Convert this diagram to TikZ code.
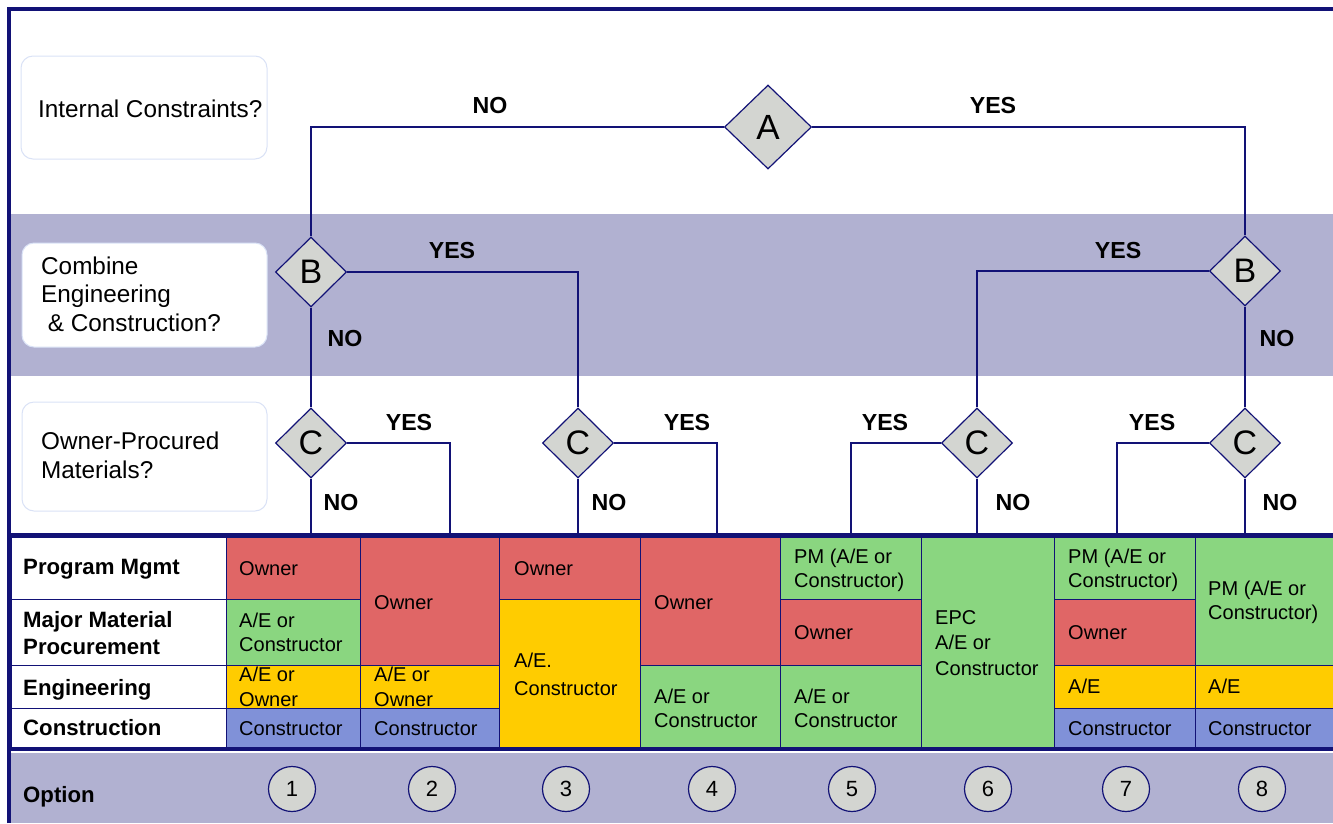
\documentclass[tikz,border=0pt]{standalone}
\usepackage{fontspec}
\setmainfont{Liberation Sans}
\usetikzlibrary{shapes.geometric}
\pgfdeclarelayer{bg}
\pgfdeclarelayer{lines}
\pgfsetlayers{bg,lines,main}
\definecolor{navy}{RGB}{18,18,118}
\definecolor{band}{RGB}{177,177,209}
\definecolor{cred}{RGB}{224,102,102}
\definecolor{cgreen}{RGB}{138,214,128}
\definecolor{cyel}{RGB}{255,204,0}
\definecolor{cblue}{RGB}{128,145,216}
\definecolor{dgrey}{RGB}{211,213,209}
\definecolor{qborder}{RGB}{218,226,246}
\tikzset{
 dec/.style={diamond, draw=navy, fill=dgrey, line width=1.2pt, inner sep=0pt, aspect=1, minimum width=71pt, minimum height=70pt, font=\fontsize{34}{34}\selectfont},
 bigdec/.style={dec, minimum width=87pt, minimum height=84pt, font=\fontsize{35}{35}\selectfont},
 link/.style={draw=navy, line width=1.3pt},
 yn/.style={font=\fontsize{23.2}{23.2}\selectfont\bfseries, inner sep=0pt},
 qbox/.style={draw=qborder, fill=white, rounded corners=12pt, line width=1pt},
 qtext/.style={anchor=base west, align=left, font=\fontsize{24.3}{28.5}\selectfont, inner sep=0pt},
 cell/.style={draw=navy, line width=1pt},
 ctext/.style={anchor=base west, align=left, font=\fontsize{20}{24.5}\selectfont, inner sep=0pt},
 rtext/.style={anchor=base west, align=left, font=\fontsize{22.2}{27}\selectfont\bfseries, inner sep=0pt},
 opt/.style={ellipse, draw=navy, fill=dgrey, line width=1.2pt, minimum width=47pt, minimum height=45pt, inner sep=0pt, font=\fontsize{22}{22}\selectfont},
}
\newcommand\tcell[5]{\path[cell, fill=#5] (#1,#2) rectangle (#3,#4);}
\begin{document}
\begin{tikzpicture}[x=1pt,y=-1pt]
\useasboundingbox (0,0) rectangle (1333,823);
\begin{pgfonlayer}{bg}
% bands
\fill[band] (11,214) rectangle (1333,376);
\fill[band] (11,753) rectangle (1333,823);
% question boxes
\draw[qbox] (21,56) rectangle (267,159);
\draw[qbox] (22,243) rectangle (267,347);
\draw[qbox] (22,402) rectangle (267,511);
% table cells
\tcell{11}{537}{226}{599}{white}
\tcell{11}{599}{226}{665}{white}
\tcell{11}{665}{226}{708}{white}
\tcell{11}{708}{226}{747}{white}
\tcell{226}{537}{360}{599}{cred}
\tcell{226}{599}{360}{665}{cgreen}
\tcell{226}{665}{360}{708}{cyel}
\tcell{226}{708}{360}{747}{cblue}
\tcell{360}{537}{499}{665}{cred}
\tcell{360}{665}{499}{708}{cyel}
\tcell{360}{708}{499}{747}{cblue}
\tcell{499}{537}{640}{599}{cred}
\tcell{499}{599}{640}{747}{cyel}
\tcell{640}{537}{780}{665}{cred}
\tcell{640}{665}{780}{747}{cgreen}
\tcell{780}{537}{921}{599}{cgreen}
\tcell{780}{599}{921}{665}{cred}
\tcell{780}{665}{921}{747}{cgreen}
\tcell{921}{537}{1054}{747}{cgreen}
\tcell{1054}{537}{1195}{599}{cgreen}
\tcell{1054}{599}{1195}{665}{cred}
\tcell{1054}{665}{1195}{708}{cyel}
\tcell{1054}{708}{1195}{747}{cblue}
\tcell{1195}{537}{1336}{665}{cgreen}
\tcell{1195}{665}{1336}{708}{cyel}
\tcell{1195}{708}{1336}{747}{cblue}
\end{pgfonlayer}
% question texts (anchor = baseline of last line)
\node[qtext] (q1) at (38,117) {Internal Constraints?};
\node[qtext] (q2) at (41,331) {Combine\\Engineering\\~\& Construction?};
\node[qtext] (q3) at (41,478) {Owner-Procured\\Materials?};
% row labels
\node[rtext] (r1) at (23,574) {Program Mgmt};
\node[rtext] (r2) at (23,654) {Major Material\\Procurement};
\node[rtext] (r3) at (23,695) {Engineering};
\node[rtext] (r4) at (23,735) {Construction};
% cell texts
\node[ctext] (c11) at (239,575) {Owner};
\node[ctext] (c12) at (239,651.5) {A/E or\\Constructor};
\node[ctext] (c13) at (239,706) {A/E or\\Owner};
\node[ctext] (c14) at (239,735) {Constructor};
\node[ctext] (c21) at (374,609) {Owner};
\node[ctext] (c22) at (374,706) {A/E or\\Owner};
\node[ctext] (c23) at (374,735) {Constructor};
\node[ctext] (c31) at (514,575) {Owner};
\node[ctext, font=\fontsize{20}{28}\selectfont] (c32) at (514,695) {A/E.\\Constructor};
\node[ctext] (c41) at (654,609) {Owner};
\node[ctext] (c42) at (654,727.5) {A/E or\\Constructor};
\node[ctext] (c51) at (794,587.5) {PM (A/E or\\Constructor)};
\node[ctext] (c52) at (794,639) {Owner};
\node[ctext] (c53) at (794,727.5) {A/E or\\Constructor};
\node[ctext, font=\fontsize{20}{25.5}\selectfont] (c61) at (935,675) {EPC\\A/E or\\Constructor};
\node[ctext] (c71) at (1068,587.5) {PM (A/E or\\Constructor)};
\node[ctext] (c72) at (1068,639) {Owner};
\node[ctext] (c73) at (1068,693) {A/E};
\node[ctext] (c74) at (1068,735) {Constructor};
\node[ctext] (c81) at (1208,619.5) {PM (A/E or\\Constructor)};
\node[ctext] (c82) at (1208,693) {A/E};
\node[ctext] (c83) at (1208,735) {Constructor};
% decision nodes
\node[bigdec] (A) at (768,127) {A};
\node[dec] (B1) at (311,272) {B};
\node[dec] (B2) at (1245,271) {B};
\node[dec] (C1) at (311,443) {C};
\node[dec] (C2) at (578,443) {C};
\node[dec] (C3) at (977,443) {C};
\node[dec] (C4) at (1245,443) {C};
% end points on the table
\coordinate (tabtop) at (0,535);
\coordinate (y1) at (450,535);
\coordinate (y2) at (717,535);
\coordinate (y3) at (851,535);
\coordinate (y4) at (1117,535);
% connectors
\begin{pgfonlayer}{lines}
\draw[link] (A.west) -| (B1.north);
\draw[link] (A.east) -| (B2.north);
\draw[link] (B1.east) -| (C2.north);
\draw[link] (B1.south) -- (C1.north);
\draw[link] (B2.west) -| (C3.north);
\draw[link] (B2.south) -- (C4.north);
\draw[link] (C1.east) -| (y1);
\draw[link] (C1.south) -- (C1.south |- tabtop);
\draw[link] (C2.east) -| (y2);
\draw[link] (C2.south) -- (C2.south |- tabtop);
\draw[link] (C3.west) -| (y3);
\draw[link] (C3.south) -- (C3.south |- tabtop);
\draw[link] (C4.west) -| (y4);
\draw[link] (C4.south) -- (C4.south |- tabtop);
\end{pgfonlayer}
% yes / no labels
\node[yn] (nA) at (490,106) {NO};
\node[yn] (yA) at (993,106) {YES};
\node[yn] (yB1) at (452,251) {YES};
\node[yn] (nB1) at (345,339) {NO};
\node[yn] (yB2) at (1118,251) {YES};
\node[yn] (nB2) at (1277,339) {NO};
\node[yn] (yC1) at (409,423) {YES};
\node[yn] (nC1) at (341,503) {NO};
\node[yn] (yC2) at (687,423) {YES};
\node[yn] (nC2) at (609,503) {NO};
\node[yn] (yC3) at (885,423) {YES};
\node[yn] (nC3) at (1013,503) {NO};
\node[yn] (yC4) at (1152,423) {YES};
\node[yn] (nC4) at (1280,503) {NO};
% thick table lines
\draw[navy, line width=3.5pt] (11,535) -- (1333,535);
\draw[navy, line width=3.5pt] (11,749) -- (1333,749);
% option row
\node[rtext] (optlabel) at (23,802) {Option};
\node[opt] (o1) at (292,789) {1};
\node[opt] (o2) at (432,789) {2};
\node[opt] (o3) at (566,789) {3};
\node[opt] (o4) at (712,789) {4};
\node[opt] (o5) at (852,789) {5};
\node[opt] (o6) at (988,789) {6};
\node[opt] (o7) at (1126,789) {7};
\node[opt] (o8) at (1262,789) {8};
% outer border
\draw[navy, line width=4pt] (9,823) -- (9,9) -- (1333,9);
\end{tikzpicture}
\end{document}
